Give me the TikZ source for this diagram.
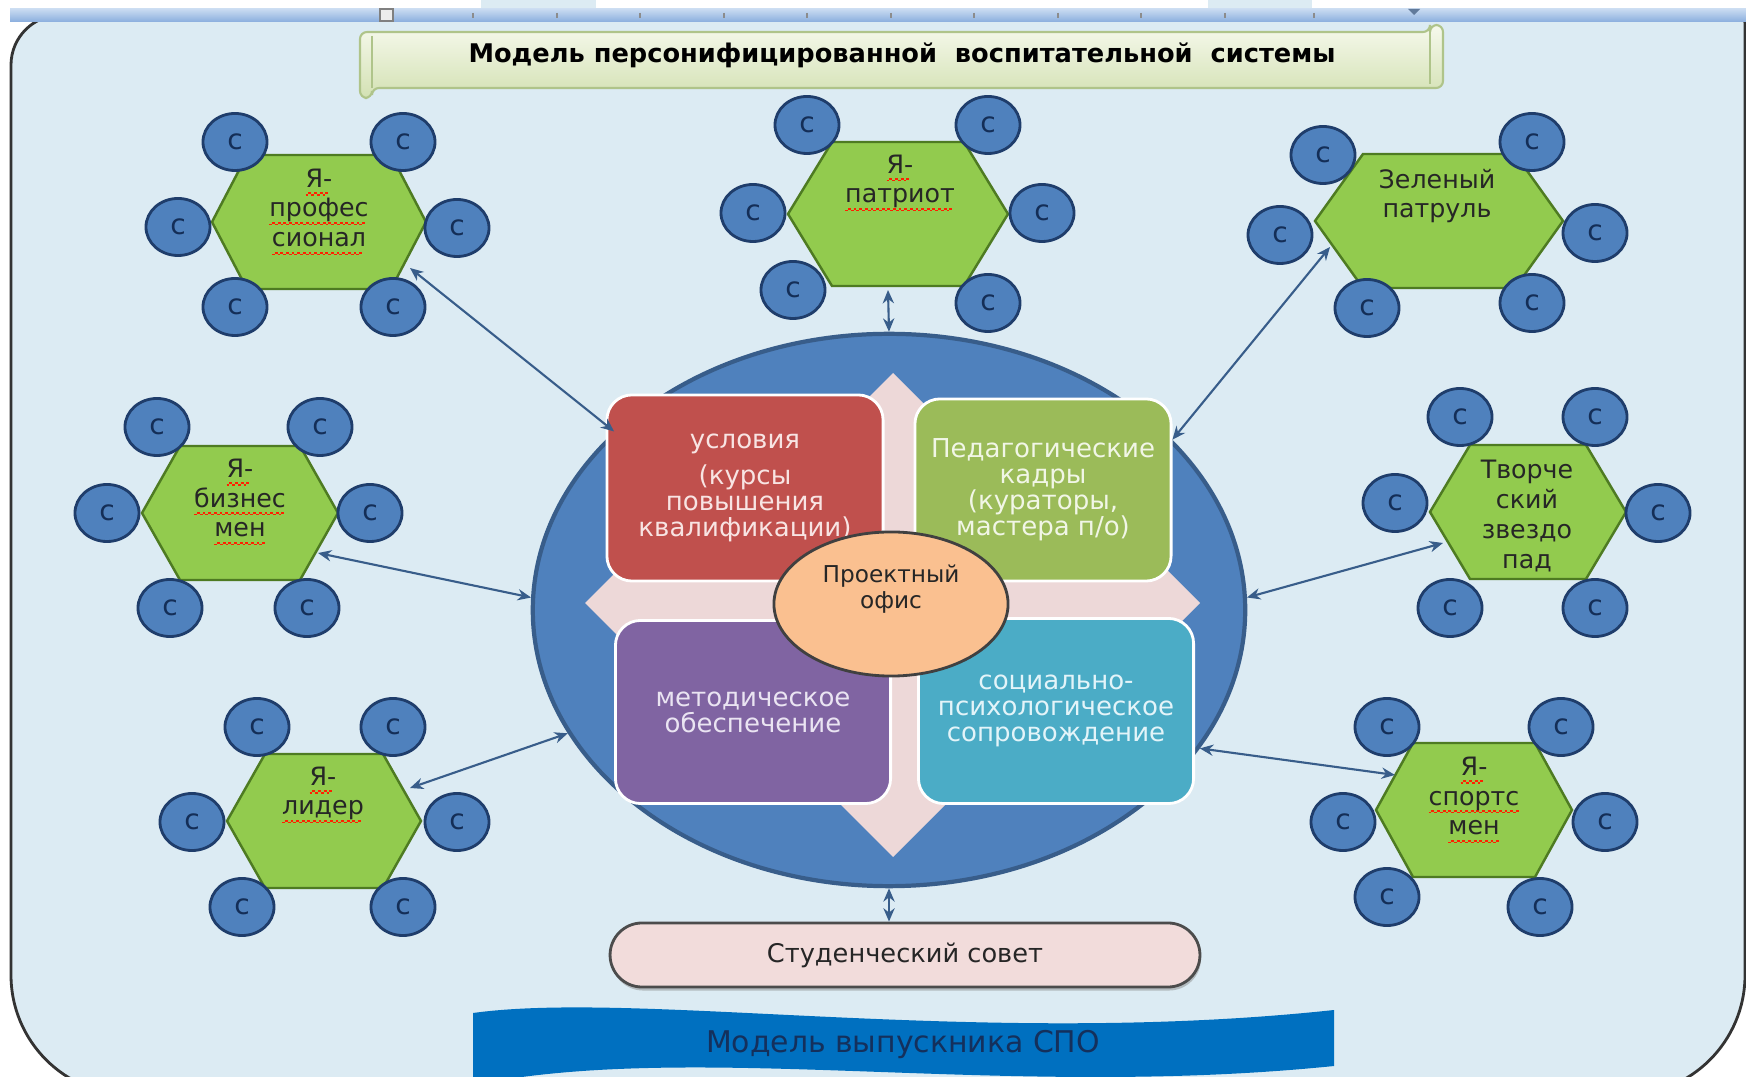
\documentclass[tikz,border=0pt]{standalone}
\usepackage{fontspec}
\setmainfont{DejaVu Sans}
\usetikzlibrary{shapes.geometric,shapes.misc,arrows.meta,shadows}
\definecolor{bg}{HTML}{DCEBF3}
\definecolor{hexg}{HTML}{92CB4E}
\definecolor{hexb}{HTML}{4E7B22}
\definecolor{cirf}{HTML}{4F81BD}
\definecolor{cirb}{HTML}{1F3D6B}
\definecolor{cirt}{HTML}{142E57}
\definecolor{bigf}{HTML}{4F81BD}
\definecolor{bigd}{HTML}{385D8A}
\definecolor{crossc}{HTML}{EDD8D8}
\definecolor{redc}{HTML}{C0504D}
\definecolor{redt}{HTML}{F8E4E3}
\definecolor{grnc}{HTML}{9BBB59}
\definecolor{grnt}{HTML}{F1F6E6}
\definecolor{purc}{HTML}{8064A2}
\definecolor{purt}{HTML}{EAE4F2}
\definecolor{tealc}{HTML}{4BACC6}
\definecolor{tealt}{HTML}{E3F4F9}
\definecolor{offc}{HTML}{FAC090}
\definecolor{studc}{HTML}{F2DCDB}
\definecolor{wavec}{HTML}{0070C0}
\definecolor{wavet}{HTML}{14305C}
\definecolor{arrc}{HTML}{385D8A}
\definecolor{tbtop}{HTML}{F6F9EC}
\definecolor{tbbot}{HTML}{D3E1B3}
\definecolor{tbdraw}{HTML}{AFC48A}
\definecolor{rtop}{HTML}{C9DBF1}
\definecolor{rbot}{HTML}{8AAEDE}
\newcommand\wv[1]{\setbox0\hbox{#1}\rlap{\color{red!75!orange}\lower 2.4pt\hbox to \wd0{\leaders\hbox to 1.6pt{\rule{0.8pt}{0.45pt}\rule[0.45pt]{0.8pt}{0.45pt}}\hfill}}\box0}
\newcommand\hexa[5]{\path[hexst] (#1-#3,#2) -- (#1-#3+#5,#2-#4) -- (#1+#3-#5,#2-#4) -- (#1+#3,#2) -- (#1+#3-#5,#2+#4) -- (#1-#3+#5,#2+#4) -- cycle;}
\begin{document}
\begin{tikzpicture}[x=0.01cm,y=-0.01cm,
  hexst/.style={fill=hexg, draw=hexb, line width=0.7pt, line join=miter},
  cc/.style={ellipse, draw=cirb, line width=0.8pt, fill=cirf, minimum width=0.64cm, minimum height=0.57cm, inner sep=0pt, text=cirt, font=\fontsize{8}{8}\selectfont},
  htxt/.style={align=center, text=black!85, font=\fontsize{7.2}{8.5}\selectfont, inner sep=0pt},
  qbox/.style={rounded corners=0.25cm, draw=white, line width=0.8pt, align=center, inner sep=2pt, font=\fontsize{7.4}{7.4}\selectfont},
  biarr/.style={draw=arrc, line width=0.6pt, {Stealth[length=3.8pt,width=3.2pt]}-{Stealth[length=3.8pt,width=3.2pt]}}
]
\useasboundingbox (0,0) rectangle (1746,1077);
\clip (0,0) rectangle (1746,1077);
\fill[white] (0,0) rectangle (1746,1077);
% frame
\draw[fill=bg, draw=black!80, line width=0.8pt]
  (11,65) arc[start angle=180, end angle=270, radius=50] -- (1737,15)
  arc[start angle=270, end angle=360, radius=8] -- (1745,975)
  arc[start angle=0, end angle=90, radius=120] -- (131,1095)
  arc[start angle=90, end angle=180, radius=120] -- cycle;
% top strip and ruler
\fill[white] (0,0) rectangle (1746,9);
\fill[bg] (481,0) rectangle (596,9);
\fill[bg] (1208,0) rectangle (1312,9);
\shade[top color=rtop, bottom color=rbot] (10,9) rectangle (1746,22);
\foreach \t in {473,557,640,724,807,891,974,1058,1141,1225,1314}
  \draw[black!45, line width=0.4pt] (\t,13) -- (\t,18);
\draw[fill=white!85!gray, draw=black!50, line width=0.4pt] (380,9) rectangle (393,21);
\fill[rbot!70!black] (1408,9) -- (1420,9) -- (1414,15) -- cycle;
% title banner
\shade[top color=tbtop, bottom color=tbbot, draw=tbdraw, line width=0.6pt, rounded corners=2pt]
  (360,32) -- (1430,32) -- (1430,25) -- (1443,25) -- (1443,88) -- (372,88) -- (372,98) -- (360,98) -- cycle;
\draw[tbdraw, line width=0.5pt] (372,36) -- (372,88);
\draw[tbdraw, line width=0.5pt] (1430,32) -- (1430,84);
\node[font=\fontsize{7.3}{8}\selectfont\bfseries, text=black] (title) at (902,55)
  {Модель персонифицированной\ \ воспитательной\ \ системы};
% central ellipse
\node[ellipse, fill=bigf, draw=bigd, line width=1.2pt, minimum width=7.12cm, minimum height=5.52cm] (big) at (889,610) {};
% cross
\fill[crossc] (893,373) -- (983,463) -- (938,463) -- (938,558) -- (1110,558) -- (1110,513) -- (1200,603)
  -- (1110,693) -- (1110,648) -- (938,648) -- (938,767) -- (983,767) -- (893,857) -- (803,767) -- (848,767)
  -- (848,648) -- (675,648) -- (675,693) -- (585,603) -- (675,513) -- (675,558) -- (848,558) -- (848,463)
  -- (803,463) -- cycle;
% boxes
\node[qbox, fill=redc, text=redt, minimum width=2.76cm, minimum height=1.86cm] (usl) at (745,488)
  {условия\\[3pt](курсы\\повышения\\квалификации)};
\node[qbox, fill=grnc, text=grnt, minimum width=2.56cm, minimum height=1.82cm] (ped) at (1043,490)
  {Педагогические\\кадры\\(кураторы,\\мастера п/о)};
\node[qbox, fill=purc, text=purt, minimum width=2.75cm, minimum height=1.83cm] (met) at (753,712)
  {методическое\\обеспечение};
\node[qbox, fill=tealc, text=tealt, minimum width=2.75cm, minimum height=1.85cm] (soc) at (1056,711)
  {социально-\\психологическое\\сопровождение};
\node[ellipse, fill=offc, draw=black!75, line width=0.8pt, minimum width=2.34cm, minimum height=1.44cm] (office) at (891,604) {};
\node[font=\fontsize{6.6}{7.6}\selectfont, align=center, text=black!85, inner sep=0pt] (officet) at (891,589) {Проектный\\офис};
% student council
\node[rounded rectangle, fill=studc, draw=black!70, line width=0.8pt, minimum width=6.13cm, minimum height=0.64cm,
  font=\fontsize{7.3}{8}\selectfont, text=black!85,
  drop shadow={shadow xshift=0.3pt, shadow yshift=-1pt, fill=black!45}] (stud) at (905,955) {Студенческий совет};
% wave
\fill[wavec] (473,1013) .. controls (640,990) and (980,1048) .. (1334,1010) -- (1334,1066)
  .. controls (1000,1100) and (700,1040) .. (473,1085) -- cycle;
\node[font=\fontsize{8.5}{9}\selectfont, text=wavet] (grad) at (903,1045) {Модель выпускника СПО};
% hexagons
\hexa{319}{222}{107}{67}{35}
\hexa{898}{214}{110}{72}{44}
\hexa{1439}{221}{124}{67}{48}
\hexa{240}{513}{98}{67}{38}
\hexa{1528}{512}{98}{67}{40}
\hexa{324}{821}{97}{67}{38}
\hexa{1474}{810}{98}{67}{37}
\node[htxt] (prof) at (319,212) {\wv{Я-}\\\wv{профес}\\\wv{сионал}};
\node[htxt] (patr) at (900,183) {\wv{Я-}\\\wv{патриот}};
\node[htxt] (zel) at (1437,196) {Зеленый\\патруль};
\node[htxt] (biz) at (240,502) {\wv{Я-}\\\wv{бизнес}\\\wv{мен}};
\node[htxt] (tvor) at (1527,516) {Творче\\ский\\звездо\\пад};
\node[htxt] (lid) at (323,795) {\wv{Я-}\\\wv{лидер}};
\node[htxt] (sport) at (1474,800) {\wv{Я-}\\\wv{спортс}\\\wv{мен}};
% circles
\foreach \x/\y [count=\i] in {235/142,403/142,178/227,457/228,235/307,393/307}
  \node[cc] (prof\i) at (\x,\y) {с};
\foreach \x/\y [count=\i] in {807/125,988/125,753/213,1042/213,793/290,988/303}
  \node[cc] (patr\i) at (\x,\y) {с};
\foreach \x/\y [count=\i] in {1323/155,1532/142,1280/235,1595/233,1367/308,1532/303}
  \node[cc] (zel\i) at (\x,\y) {с};
\foreach \x/\y [count=\i] in {157/427,320/427,107/513,370/513,170/608,307/608}
  \node[cc] (biz\i) at (\x,\y) {с};
\foreach \x/\y [count=\i] in {1460/417,1595/417,1395/503,1658/513,1450/608,1595/608}
  \node[cc] (tvor\i) at (\x,\y) {с};
\foreach \x/\y [count=\i] in {257/727,393/727,192/822,457/822,242/907,403/907}
  \node[cc] (lid\i) at (\x,\y) {с};
\foreach \x/\y [count=\i] in {1387/727,1561/727,1343/822,1605/822,1387/897,1540/907}
  \node[cc] (sport\i) at (\x,\y) {с};
% connector ends on hexagons
\coordinate (aprof) at (410,268);
\coordinate (apatr) at (888,290);
\coordinate (azel) at (1330,247);
\coordinate (abiz) at (318,553);
\coordinate (atvor) at (1443,543);
\coordinate (alid) at (410,788);
\coordinate (asport) at (1395,775);
\draw[biarr] (aprof) -- (big.147);
\draw[biarr] (apatr) -- (big.north);
\draw[biarr] (azel) -- (big.31);
\draw[biarr] (abiz) -- (big.178);
\draw[biarr] (atvor) -- (big.2);
\draw[biarr] (alid) -- (big.201);
\draw[biarr] (asport) -- (big.336);
\draw[biarr] (big.south) -- (big.south |- stud.north);
\end{tikzpicture}
\end{document}
